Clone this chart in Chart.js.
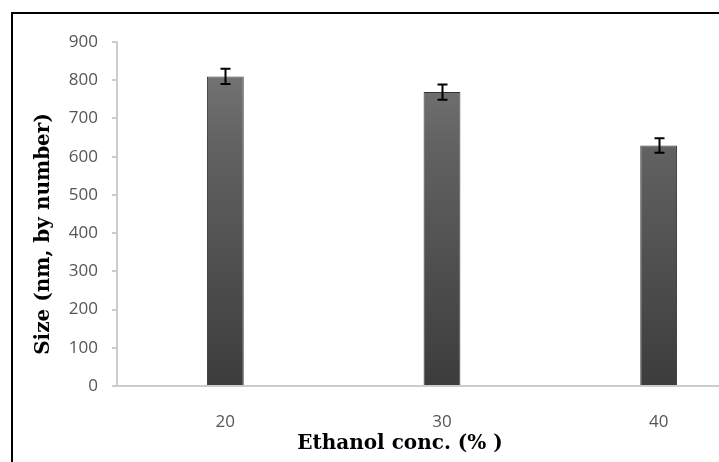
<!DOCTYPE html>
<html>
<head>
<meta charset="utf-8">
<script src="https://cdn.jsdelivr.net/npm/chart.js@4"></script>
<style>
  html, body { margin: 0; padding: 0; background: #fff; width: 719px; height: 462px; overflow: hidden; }
  #wrap { position: relative; width: 719px; height: 462px; overflow: hidden; }
  #frame { position: absolute; left: 11px; top: 12px; width: 800px; height: 600px; border-left: 2px solid #000; border-top: 2px solid #000; box-sizing: border-box; pointer-events: none; }
  canvas { position: absolute; left: 0; top: 0; }
</style>
</head>
<body>
<div id="wrap">
  <canvas id="c" width="780" height="462"></canvas>
  <div id="frame"></div>
</div>
<script>
const categories = ['20', '30', '40'];
const sizes = [810, 769, 629];
const errors = [20, 20, 19];
const yTicks = [0, 100, 200, 300, 400, 500, 600, 700, 800, 900];
const xTitle = 'Ethanol conc. (% )';
const yTitle = 'Size (nm, by number)';

const errorBars = {
  id: 'errorBars',
  afterDatasetsDraw(chart) {
    const ctx = chart.ctx;
    const meta = chart.getDatasetMeta(0);
    const y = chart.scales.y;
    ctx.save();
    ctx.strokeStyle = '#000';
    ctx.lineWidth = 2;
    meta.data.forEach((bar, i) => {
      const x = Math.round(bar.x) + 0.5;
      const top = y.getPixelForValue(sizes[i] + errors[i]);
      const bot = y.getPixelForValue(sizes[i] - errors[i]);
      ctx.beginPath();
      ctx.moveTo(x, top); ctx.lineTo(x, bot);
      ctx.moveTo(x - 5, top); ctx.lineTo(x + 5, top);
      ctx.moveTo(x - 5, bot); ctx.lineTo(x + 5, bot);
      ctx.stroke();
    });
    ctx.restore();
  }
};

const axisTitles = {
  id: 'axisTitles',
  afterDraw(chart) {
    const ctx = chart.ctx;
    ctx.save();
    ctx.fillStyle = '#000';
    ctx.font = 'bold 20px "DejaVu Serif"';
    ctx.textAlign = 'center';
    ctx.textBaseline = 'middle';
    ctx.fillText(xTitle, 400, 444);
    ctx.translate(44, 234);
    ctx.rotate(-Math.PI / 2);
    ctx.fillText(yTitle, 0, 0);
    ctx.restore();
  }
};

function barFill(context) {
  const chart = context.chart;
  const area = chart.chartArea;
  if (!area) return '#555';
  const el = context.element;
  const g = chart.ctx.createLinearGradient(0, el && el.y ? el.y : area.top, 0, area.bottom);
  g.addColorStop(0, '#7a7a7a');
  g.addColorStop(0.3, '#626262');
  g.addColorStop(1, '#3c3c3c');
  return g;
}

new Chart(document.getElementById('c'), {
  type: 'bar',
  data: {
    labels: categories,
    datasets: [{
      data: sizes,
      backgroundColor: barFill,
      borderColor: '#353535',
      borderWidth: 1,
      categoryPercentage: 1,
      barPercentage: 0.17
    }]
  },
  options: {
    responsive: false,
    animation: false,
    layout: { padding: { top: 42, right: 13, left: 0, bottom: 0 } },
    plugins: { legend: { display: false }, tooltip: { enabled: false } },
    scales: {
      x: {
        afterFit(s) { s.height = 76; },
        grid: { display: false },
        border: { display: true, color: '#cccccc', width: 2 },
        ticks: { color: '#555555', font: { family: 'Open Sans', size: 17 }, padding: 18 },
        title: { display: false, text: xTitle }
      },
      y: {
        min: 0, max: 900,
        afterFit(s) { s.width = 117; },
        afterBuildTicks(s) { s.ticks = yTicks.map(v => ({ value: v })); },
        grid: { display: true, drawOnChartArea: false, drawTicks: true, tickLength: 5, color: '#cccccc', lineWidth: 2 },
        border: { display: true, color: '#cccccc', width: 2 },
        ticks: { color: '#555555', font: { family: 'Open Sans', size: 17 }, padding: 14 },
        title: { display: false, text: yTitle }
      }
    }
  },
  plugins: [errorBars, axisTitles]
});
</script>
</body>
</html>
